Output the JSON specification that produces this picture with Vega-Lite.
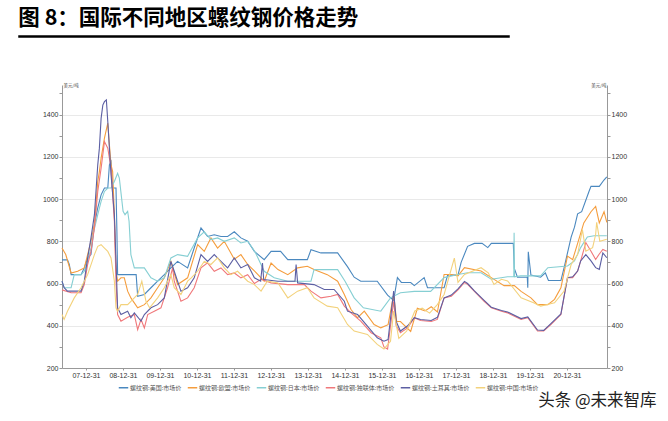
{
"$schema": "https://vega.github.io/schema/vega-lite/v6.json",
"background": "white",
"padding": {"left": 18, "top": 7, "right": 4, "bottom": 4},
"title": {"text": "图 8：国际不同地区螺纹钢价格走势", "anchor": "start", "fontSize": 21.5, "font": "Noto Sans CJK SC", "fontWeight": "bold", "color": "#000", "offset": 6},
"config": {"view": {"stroke": null}, "font": "Liberation Sans"},
"datasets": {"steel": [
{"d":"2007-05-09","s":"US","v":712},{"d":"2007-07-02","s":"US","v":712},{"d":"2007-07-20","s":"US","v":690},{"d":"2007-08-07","s":"US","v":642},{"d":"2007-11-13","s":"US","v":642},{"d":"2007-12-15","s":"US","v":674},{"d":"2008-01-17","s":"US","v":721},{"d":"2008-02-19","s":"US","v":737},{"d":"2008-03-24","s":"US","v":879},{"d":"2008-04-26","s":"US","v":958},{"d":"2008-05-29","s":"US","v":1020},{"d":"2008-07-01","s":"US","v":1052},{"d":"2008-08-03","s":"US","v":1052},{"d":"2008-08-19","s":"US","v":1162},{"d":"2008-09-04","s":"US","v":1177},{"d":"2008-09-20","s":"US","v":1052},{"d":"2008-10-23","s":"US","v":1052},{"d":"2008-11-01","s":"US","v":847},{"d":"2008-11-08","s":"US","v":642},{"d":"2009-05-10","s":"US","v":642},{"d":"2009-05-25","s":"US","v":540},{"d":"2009-07-30","s":"US","v":548},{"d":"2009-10-03","s":"US","v":580},{"d":"2009-12-08","s":"US","v":611},{"d":"2010-02-12","s":"US","v":642},{"d":"2010-04-18","s":"US","v":674},{"d":"2010-06-23","s":"US","v":705},{"d":"2010-09-30","s":"US","v":674},{"d":"2010-12-04","s":"US","v":768},{"d":"2011-02-09","s":"US","v":863},{"d":"2011-04-15","s":"US","v":823},{"d":"2011-06-20","s":"US","v":831},{"d":"2011-08-25","s":"US","v":823},{"d":"2011-10-30","s":"US","v":823},{"d":"2012-01-04","s":"US","v":845},{"d":"2012-03-09","s":"US","v":816},{"d":"2012-05-15","s":"US","v":800},{"d":"2012-07-20","s":"US","v":752},{"d":"2012-10-25","s":"US","v":713},{"d":"2013-01-01","s":"US","v":752},{"d":"2013-04-05","s":"US","v":752},{"d":"2013-06-15","s":"US","v":713},{"d":"2013-12-25","s":"US","v":713},{"d":"2014-01-30","s":"US","v":760},{"d":"2014-05-08","s":"US","v":745},{"d":"2014-10-20","s":"US","v":745},{"d":"2015-01-25","s":"US","v":680},{"d":"2015-04-01","s":"US","v":630},{"d":"2015-06-05","s":"US","v":611},{"d":"2015-11-15","s":"US","v":611},{"d":"2016-02-25","s":"US","v":545},{"d":"2016-04-25","s":"US","v":520},{"d":"2016-06-01","s":"US","v":628},{"d":"2016-07-10","s":"US","v":605},{"d":"2016-10-10","s":"US","v":605},{"d":"2016-11-15","s":"US","v":590},{"d":"2017-02-20","s":"US","v":628},{"d":"2017-03-25","s":"US","v":580},{"d":"2017-09-05","s":"US","v":580},{"d":"2017-10-10","s":"US","v":640},{"d":"2018-01-20","s":"US","v":640},{"d":"2018-02-20","s":"US","v":700},{"d":"2018-04-25","s":"US","v":776},{"d":"2018-07-01","s":"US","v":790},{"d":"2018-09-15","s":"US","v":790},{"d":"2018-11-10","s":"US","v":770},{"d":"2018-12-15","s":"US","v":790},{"d":"2019-07-20","s":"US","v":790},{"d":"2019-07-30","s":"US","v":672},{"d":"2019-08-30","s":"US","v":630},{"d":"2019-12-05","s":"US","v":630},{"d":"2019-12-10","s":"US","v":580},{"d":"2019-12-15","s":"US","v":750},{"d":"2020-01-10","s":"US","v":640},{"d":"2020-04-15","s":"US","v":630},{"d":"2020-06-01","s":"US","v":650},{"d":"2020-07-01","s":"US","v":614},{"d":"2020-11-01","s":"US","v":614},{"d":"2020-12-05","s":"US","v":680},{"d":"2021-02-10","s":"US","v":820},{"d":"2021-03-15","s":"US","v":867},{"d":"2021-04-15","s":"US","v":930},{"d":"2021-05-25","s":"US","v":940},{"d":"2021-08-05","s":"US","v":1036},{"d":"2021-08-25","s":"US","v":1060},{"d":"2021-11-15","s":"US","v":1060},{"d":"2021-12-31","s":"US","v":1090},{"d":"2022-01-28","s":"US","v":1105},
{"d":"2007-05-09","s":"EU","v":768},{"d":"2007-06-15","s":"EU","v":737},{"d":"2007-08-07","s":"EU","v":650},{"d":"2007-10-11","s":"EU","v":658},{"d":"2007-12-15","s":"EU","v":674},{"d":"2008-01-17","s":"EU","v":737},{"d":"2008-02-19","s":"EU","v":800},{"d":"2008-03-24","s":"EU","v":879},{"d":"2008-04-26","s":"EU","v":1083},{"d":"2008-05-12","s":"EU","v":1130},{"d":"2008-05-29","s":"EU","v":1193},{"d":"2008-07-01","s":"EU","v":1288},{"d":"2008-08-03","s":"EU","v":1359},{"d":"2008-08-19","s":"EU","v":1256},{"d":"2008-09-04","s":"EU","v":1162},{"d":"2008-09-20","s":"EU","v":1130},{"d":"2008-10-07","s":"EU","v":926},{"d":"2008-10-23","s":"EU","v":658},{"d":"2008-11-08","s":"EU","v":611},{"d":"2008-12-11","s":"EU","v":627},{"d":"2009-01-13","s":"EU","v":627},{"d":"2009-02-15","s":"EU","v":564},{"d":"2009-03-19","s":"EU","v":532},{"d":"2009-05-25","s":"EU","v":485},{"d":"2009-07-30","s":"EU","v":500},{"d":"2009-10-03","s":"EU","v":532},{"d":"2009-12-08","s":"EU","v":580},{"d":"2010-02-12","s":"EU","v":627},{"d":"2010-04-18","s":"EU","v":705},{"d":"2010-06-23","s":"EU","v":595},{"d":"2010-09-30","s":"EU","v":627},{"d":"2011-01-07","s":"EU","v":784},{"d":"2011-03-13","s":"EU","v":752},{"d":"2011-05-18","s":"EU","v":816},{"d":"2011-07-23","s":"EU","v":768},{"d":"2011-09-27","s":"EU","v":800},{"d":"2012-01-04","s":"EU","v":715},{"d":"2012-03-09","s":"EU","v":737},{"d":"2012-05-15","s":"EU","v":690},{"d":"2012-07-20","s":"EU","v":660},{"d":"2012-10-25","s":"EU","v":611},{"d":"2013-01-01","s":"EU","v":697},{"d":"2013-03-10","s":"EU","v":666},{"d":"2013-06-15","s":"EU","v":642},{"d":"2013-09-20","s":"EU","v":674},{"d":"2013-12-25","s":"EU","v":682},{"d":"2014-03-01","s":"EU","v":666},{"d":"2014-07-10","s":"EU","v":642},{"d":"2014-10-20","s":"EU","v":611},{"d":"2014-12-25","s":"EU","v":548},{"d":"2015-03-01","s":"EU","v":477},{"d":"2015-05-05","s":"EU","v":438},{"d":"2015-07-10","s":"EU","v":469},{"d":"2015-10-15","s":"EU","v":406},{"d":"2015-12-20","s":"EU","v":390},{"d":"2016-03-01","s":"EU","v":405},{"d":"2016-04-25","s":"EU","v":548},{"d":"2016-05-25","s":"EU","v":420},{"d":"2016-07-01","s":"EU","v":420},{"d":"2016-10-10","s":"EU","v":373},{"d":"2016-12-15","s":"EU","v":483},{"d":"2017-03-01","s":"EU","v":470},{"d":"2017-05-01","s":"EU","v":490},{"d":"2017-07-01","s":"EU","v":465},{"d":"2017-09-05","s":"EU","v":643},{"d":"2017-11-15","s":"EU","v":643},{"d":"2018-01-20","s":"EU","v":636},{"d":"2018-03-25","s":"EU","v":675},{"d":"2018-09-05","s":"EU","v":659},{"d":"2018-12-15","s":"EU","v":628},{"d":"2019-04-20","s":"EU","v":590},{"d":"2019-07-30","s":"EU","v":590},{"d":"2019-10-05","s":"EU","v":563},{"d":"2020-01-10","s":"EU","v":532},{"d":"2020-03-15","s":"EU","v":500},{"d":"2020-06-25","s":"EU","v":500},{"d":"2020-08-30","s":"EU","v":525},{"d":"2020-11-01","s":"EU","v":580},{"d":"2021-01-05","s":"EU","v":730},{"d":"2021-02-25","s":"EU","v":713},{"d":"2021-04-15","s":"EU","v":790},{"d":"2021-06-15","s":"EU","v":887},{"d":"2021-08-25","s":"EU","v":940},{"d":"2021-10-10","s":"EU","v":965},{"d":"2021-11-15","s":"EU","v":887},{"d":"2022-01-01","s":"EU","v":940},{"d":"2022-01-28","s":"EU","v":890},
{"d":"2007-05-09","s":"JP","v":611},{"d":"2007-05-30","s":"JP","v":580},{"d":"2007-08-07","s":"JP","v":580},{"d":"2007-09-07","s":"JP","v":642},{"d":"2007-11-13","s":"JP","v":642},{"d":"2007-12-15","s":"JP","v":658},{"d":"2008-01-17","s":"JP","v":705},{"d":"2008-02-19","s":"JP","v":768},{"d":"2008-03-10","s":"JP","v":831},{"d":"2008-04-26","s":"JP","v":926},{"d":"2008-05-29","s":"JP","v":989},{"d":"2008-07-01","s":"JP","v":1036},{"d":"2008-08-03","s":"JP","v":1052},{"d":"2008-09-04","s":"JP","v":1052},{"d":"2008-10-07","s":"JP","v":1083},{"d":"2008-11-08","s":"JP","v":1122},{"d":"2008-11-25","s":"JP","v":1099},{"d":"2009-01-01","s":"JP","v":942},{"d":"2009-01-20","s":"JP","v":926},{"d":"2009-02-15","s":"JP","v":942},{"d":"2009-03-01","s":"JP","v":895},{"d":"2009-03-19","s":"JP","v":737},{"d":"2009-04-22","s":"JP","v":674},{"d":"2009-07-30","s":"JP","v":674},{"d":"2009-10-03","s":"JP","v":627},{"d":"2009-12-08","s":"JP","v":611},{"d":"2010-02-12","s":"JP","v":627},{"d":"2010-04-18","s":"JP","v":721},{"d":"2010-06-23","s":"JP","v":737},{"d":"2010-09-30","s":"JP","v":729},{"d":"2011-01-07","s":"JP","v":816},{"d":"2011-03-13","s":"JP","v":845},{"d":"2011-05-18","s":"JP","v":808},{"d":"2011-07-23","s":"JP","v":816},{"d":"2011-09-27","s":"JP","v":800},{"d":"2012-01-04","s":"JP","v":816},{"d":"2012-03-09","s":"JP","v":792},{"d":"2012-05-15","s":"JP","v":800},{"d":"2012-07-01","s":"JP","v":768},{"d":"2012-08-01","s":"JP","v":745},{"d":"2012-10-25","s":"JP","v":658},{"d":"2013-02-01","s":"JP","v":627},{"d":"2013-06-15","s":"JP","v":611},{"d":"2014-01-30","s":"JP","v":611},{"d":"2014-03-01","s":"JP","v":666},{"d":"2014-10-20","s":"JP","v":666},{"d":"2015-01-01","s":"JP","v":611},{"d":"2015-04-01","s":"JP","v":532},{"d":"2015-07-01","s":"JP","v":485},{"d":"2015-12-20","s":"JP","v":469},{"d":"2016-03-25","s":"JP","v":532},{"d":"2016-07-01","s":"JP","v":556},{"d":"2016-11-15","s":"JP","v":563},{"d":"2017-04-25","s":"JP","v":563},{"d":"2017-09-05","s":"JP","v":628},{"d":"2018-01-20","s":"JP","v":643},{"d":"2018-04-25","s":"JP","v":651},{"d":"2018-09-05","s":"JP","v":651},{"d":"2018-12-15","s":"JP","v":620},{"d":"2019-05-25","s":"JP","v":632},{"d":"2019-07-25","s":"JP","v":632},{"d":"2019-07-28","s":"JP","v":840},{"d":"2019-08-01","s":"JP","v":632},{"d":"2019-10-01","s":"JP","v":636},{"d":"2020-04-15","s":"JP","v":636},{"d":"2020-06-25","s":"JP","v":675},{"d":"2021-01-05","s":"JP","v":683},{"d":"2021-03-15","s":"JP","v":707},{"d":"2021-05-15","s":"JP","v":770},{"d":"2021-07-20","s":"JP","v":820},{"d":"2021-09-25","s":"JP","v":826},{"d":"2022-01-28","s":"JP","v":826},
{"d":"2007-05-09","s":"CIS","v":570},{"d":"2007-08-07","s":"CIS","v":556},{"d":"2007-11-13","s":"CIS","v":556},{"d":"2007-12-15","s":"CIS","v":595},{"d":"2008-01-17","s":"CIS","v":690},{"d":"2008-02-19","s":"CIS","v":752},{"d":"2008-03-24","s":"CIS","v":863},{"d":"2008-04-26","s":"CIS","v":1036},{"d":"2008-05-29","s":"CIS","v":1146},{"d":"2008-07-01","s":"CIS","v":1272},{"d":"2008-08-03","s":"CIS","v":1241},{"d":"2008-09-04","s":"CIS","v":1146},{"d":"2008-10-07","s":"CIS","v":895},{"d":"2008-10-23","s":"CIS","v":611},{"d":"2008-11-08","s":"CIS","v":453},{"d":"2008-12-11","s":"CIS","v":422},{"d":"2009-02-15","s":"CIS","v":440},{"d":"2009-04-22","s":"CIS","v":453},{"d":"2009-05-25","s":"CIS","v":382},{"d":"2009-06-27","s":"CIS","v":430},{"d":"2009-07-30","s":"CIS","v":390},{"d":"2009-09-01","s":"CIS","v":453},{"d":"2009-11-05","s":"CIS","v":469},{"d":"2010-01-10","s":"CIS","v":485},{"d":"2010-03-16","s":"CIS","v":580},{"d":"2010-05-05","s":"CIS","v":674},{"d":"2010-05-21","s":"CIS","v":611},{"d":"2010-07-26","s":"CIS","v":516},{"d":"2010-09-30","s":"CIS","v":532},{"d":"2010-12-04","s":"CIS","v":580},{"d":"2011-02-09","s":"CIS","v":674},{"d":"2011-04-15","s":"CIS","v":698},{"d":"2011-06-20","s":"CIS","v":658},{"d":"2011-08-25","s":"CIS","v":674},{"d":"2011-10-30","s":"CIS","v":642},{"d":"2012-01-04","s":"CIS","v":650},{"d":"2012-03-09","s":"CIS","v":627},{"d":"2012-05-15","s":"CIS","v":642},{"d":"2012-07-20","s":"CIS","v":600},{"d":"2012-09-24","s":"CIS","v":620},{"d":"2013-01-01","s":"CIS","v":603},{"d":"2013-06-15","s":"CIS","v":595},{"d":"2013-11-25","s":"CIS","v":595},{"d":"2014-01-30","s":"CIS","v":564},{"d":"2014-05-08","s":"CIS","v":532},{"d":"2014-08-15","s":"CIS","v":540},{"d":"2014-10-20","s":"CIS","v":548},{"d":"2014-12-25","s":"CIS","v":493},{"d":"2015-03-01","s":"CIS","v":461},{"d":"2015-06-05","s":"CIS","v":422},{"d":"2015-09-15","s":"CIS","v":367},{"d":"2015-12-20","s":"CIS","v":343},{"d":"2016-01-20","s":"CIS","v":300},{"d":"2016-02-25","s":"CIS","v":290},{"d":"2016-04-25","s":"CIS","v":516},{"d":"2016-05-20","s":"CIS","v":400},{"d":"2016-07-01","s":"CIS","v":367},{"d":"2016-09-10","s":"CIS","v":390},{"d":"2016-11-15","s":"CIS","v":438},{"d":"2017-01-15","s":"CIS","v":425},{"d":"2017-05-01","s":"CIS","v":420},{"d":"2017-06-30","s":"CIS","v":430},{"d":"2017-09-05","s":"CIS","v":532},{"d":"2017-11-15","s":"CIS","v":540},{"d":"2018-01-20","s":"CIS","v":570},{"d":"2018-03-25","s":"CIS","v":605},{"d":"2018-04-25","s":"CIS","v":596},{"d":"2018-07-01","s":"CIS","v":563},{"d":"2018-10-05","s":"CIS","v":516},{"d":"2018-12-15","s":"CIS","v":485},{"d":"2019-03-25","s":"CIS","v":469},{"d":"2019-05-25","s":"CIS","v":461},{"d":"2019-10-05","s":"CIS","v":430},{"d":"2019-12-10","s":"CIS","v":438},{"d":"2020-03-15","s":"CIS","v":375},{"d":"2020-05-15","s":"CIS","v":375},{"d":"2020-07-25","s":"CIS","v":406},{"d":"2020-11-01","s":"CIS","v":453},{"d":"2021-01-05","s":"CIS","v":628},{"d":"2021-02-25","s":"CIS","v":628},{"d":"2021-04-15","s":"CIS","v":659},{"d":"2021-05-15","s":"CIS","v":707},{"d":"2021-07-05","s":"CIS","v":794},{"d":"2021-08-25","s":"CIS","v":753},{"d":"2021-10-10","s":"CIS","v":714},{"d":"2021-11-15","s":"CIS","v":740},{"d":"2021-12-20","s":"CIS","v":761},{"d":"2022-01-28","s":"CIS","v":753},
{"d":"2007-05-09","s":"TR","v":611},{"d":"2007-05-30","s":"TR","v":580},{"d":"2007-07-02","s":"TR","v":564},{"d":"2007-11-13","s":"TR","v":564},{"d":"2007-12-15","s":"TR","v":611},{"d":"2008-01-17","s":"TR","v":721},{"d":"2008-02-19","s":"TR","v":816},{"d":"2008-03-24","s":"TR","v":926},{"d":"2008-04-26","s":"TR","v":1162},{"d":"2008-05-12","s":"TR","v":1241},{"d":"2008-05-29","s":"TR","v":1382},{"d":"2008-06-15","s":"TR","v":1445},{"d":"2008-07-01","s":"TR","v":1461},{"d":"2008-07-20","s":"TR","v":1469},{"d":"2008-08-03","s":"TR","v":1367},{"d":"2008-08-19","s":"TR","v":1241},{"d":"2008-09-04","s":"TR","v":1115},{"d":"2008-10-07","s":"TR","v":926},{"d":"2008-11-08","s":"TR","v":485},{"d":"2008-12-11","s":"TR","v":453},{"d":"2009-02-15","s":"TR","v":469},{"d":"2009-03-19","s":"TR","v":438},{"d":"2009-04-22","s":"TR","v":461},{"d":"2009-06-27","s":"TR","v":422},{"d":"2009-07-30","s":"TR","v":453},{"d":"2009-10-03","s":"TR","v":485},{"d":"2009-12-08","s":"TR","v":500},{"d":"2010-02-12","s":"TR","v":532},{"d":"2010-04-18","s":"TR","v":705},{"d":"2010-05-21","s":"TR","v":658},{"d":"2010-07-26","s":"TR","v":564},{"d":"2010-09-30","s":"TR","v":580},{"d":"2010-12-04","s":"TR","v":627},{"d":"2011-02-09","s":"TR","v":737},{"d":"2011-04-15","s":"TR","v":705},{"d":"2011-06-20","s":"TR","v":737},{"d":"2011-08-25","s":"TR","v":705},{"d":"2011-10-30","s":"TR","v":674},{"d":"2012-01-04","s":"TR","v":721},{"d":"2012-03-09","s":"TR","v":674},{"d":"2012-05-15","s":"TR","v":690},{"d":"2012-07-20","s":"TR","v":627},{"d":"2012-09-20","s":"TR","v":611},{"d":"2012-10-08","s":"TR","v":697},{"d":"2012-10-20","s":"TR","v":619},{"d":"2013-03-10","s":"TR","v":611},{"d":"2013-08-25","s":"TR","v":611},{"d":"2013-09-05","s":"TR","v":690},{"d":"2013-09-20","s":"TR","v":603},{"d":"2014-03-01","s":"TR","v":595},{"d":"2014-06-10","s":"TR","v":572},{"d":"2014-09-15","s":"TR","v":572},{"d":"2014-12-25","s":"TR","v":516},{"d":"2015-01-25","s":"TR","v":469},{"d":"2015-05-05","s":"TR","v":453},{"d":"2015-08-10","s":"TR","v":398},{"d":"2015-11-15","s":"TR","v":343},{"d":"2016-01-20","s":"TR","v":327},{"d":"2016-03-01","s":"TR","v":335},{"d":"2016-04-25","s":"TR","v":564},{"d":"2016-05-20","s":"TR","v":420},{"d":"2016-07-01","s":"TR","v":375},{"d":"2016-09-10","s":"TR","v":400},{"d":"2016-11-15","s":"TR","v":438},{"d":"2017-01-15","s":"TR","v":430},{"d":"2017-05-01","s":"TR","v":425},{"d":"2017-07-01","s":"TR","v":440},{"d":"2017-09-05","s":"TR","v":532},{"d":"2017-11-15","s":"TR","v":545},{"d":"2018-01-20","s":"TR","v":575},{"d":"2018-03-25","s":"TR","v":610},{"d":"2018-04-25","s":"TR","v":600},{"d":"2018-07-01","s":"TR","v":565},{"d":"2018-10-05","s":"TR","v":520},{"d":"2018-12-15","s":"TR","v":488},{"d":"2019-03-25","s":"TR","v":472},{"d":"2019-05-25","s":"TR","v":465},{"d":"2019-10-05","s":"TR","v":434},{"d":"2019-12-10","s":"TR","v":442},{"d":"2020-03-15","s":"TR","v":380},{"d":"2020-05-15","s":"TR","v":378},{"d":"2020-07-25","s":"TR","v":410},{"d":"2020-11-01","s":"TR","v":456},{"d":"2021-01-05","s":"TR","v":628},{"d":"2021-02-25","s":"TR","v":632},{"d":"2021-04-15","s":"TR","v":659},{"d":"2021-05-15","s":"TR","v":707},{"d":"2021-07-05","s":"TR","v":737},{"d":"2021-08-25","s":"TR","v":707},{"d":"2021-10-10","s":"TR","v":675},{"d":"2021-11-15","s":"TR","v":667},{"d":"2021-12-20","s":"TR","v":745},{"d":"2022-01-28","s":"TR","v":722},
{"d":"2007-05-09","s":"CN","v":453},{"d":"2007-05-30","s":"CN","v":430},{"d":"2007-07-02","s":"CN","v":469},{"d":"2007-09-07","s":"CN","v":532},{"d":"2007-11-13","s":"CN","v":580},{"d":"2008-01-17","s":"CN","v":642},{"d":"2008-03-24","s":"CN","v":737},{"d":"2008-04-26","s":"CN","v":776},{"d":"2008-05-29","s":"CN","v":784},{"d":"2008-07-01","s":"CN","v":768},{"d":"2008-08-03","s":"CN","v":752},{"d":"2008-09-04","s":"CN","v":721},{"d":"2008-10-07","s":"CN","v":611},{"d":"2008-10-23","s":"CN","v":485},{"d":"2008-11-08","s":"CN","v":469},{"d":"2008-12-11","s":"CN","v":500},{"d":"2009-02-15","s":"CN","v":500},{"d":"2009-03-19","s":"CN","v":516},{"d":"2009-05-25","s":"CN","v":548},{"d":"2009-07-05","s":"CN","v":611},{"d":"2009-08-15","s":"CN","v":516},{"d":"2009-09-20","s":"CN","v":485},{"d":"2009-12-08","s":"CN","v":532},{"d":"2010-02-12","s":"CN","v":580},{"d":"2010-04-18","s":"CN","v":642},{"d":"2010-05-21","s":"CN","v":580},{"d":"2010-07-26","s":"CN","v":548},{"d":"2010-09-30","s":"CN","v":611},{"d":"2010-11-05","s":"CN","v":627},{"d":"2011-01-07","s":"CN","v":658},{"d":"2011-03-13","s":"CN","v":705},{"d":"2011-05-18","s":"CN","v":690},{"d":"2011-07-23","s":"CN","v":721},{"d":"2011-09-27","s":"CN","v":674},{"d":"2011-11-30","s":"CN","v":642},{"d":"2012-02-05","s":"CN","v":658},{"d":"2012-05-15","s":"CN","v":611},{"d":"2012-07-20","s":"CN","v":595},{"d":"2012-09-24","s":"CN","v":564},{"d":"2012-11-25","s":"CN","v":611},{"d":"2013-03-10","s":"CN","v":603},{"d":"2013-06-15","s":"CN","v":532},{"d":"2013-09-20","s":"CN","v":564},{"d":"2013-12-25","s":"CN","v":580},{"d":"2014-03-01","s":"CN","v":532},{"d":"2014-07-10","s":"CN","v":493},{"d":"2014-10-20","s":"CN","v":485},{"d":"2015-01-25","s":"CN","v":406},{"d":"2015-04-01","s":"CN","v":375},{"d":"2015-08-10","s":"CN","v":359},{"d":"2015-11-15","s":"CN","v":312},{"d":"2016-01-20","s":"CN","v":290},{"d":"2016-03-25","s":"CN","v":327},{"d":"2016-04-25","s":"CN","v":470},{"d":"2016-06-15","s":"CN","v":340},{"d":"2016-09-01","s":"CN","v":375},{"d":"2016-11-20","s":"CN","v":470},{"d":"2017-02-01","s":"CN","v":483},{"d":"2017-04-15","s":"CN","v":460},{"d":"2017-06-30","s":"CN","v":500},{"d":"2017-09-05","s":"CN","v":548},{"d":"2017-12-15","s":"CN","v":720},{"d":"2018-01-20","s":"CN","v":605},{"d":"2018-03-25","s":"CN","v":643},{"d":"2018-09-05","s":"CN","v":675},{"d":"2018-11-15","s":"CN","v":651},{"d":"2019-01-10","s":"CN","v":596},{"d":"2019-03-25","s":"CN","v":620},{"d":"2019-05-25","s":"CN","v":612},{"d":"2019-10-05","s":"CN","v":532},{"d":"2020-02-05","s":"CN","v":509},{"d":"2020-04-15","s":"CN","v":493},{"d":"2020-08-30","s":"CN","v":509},{"d":"2020-12-01","s":"CN","v":563},{"d":"2021-02-10","s":"CN","v":690},{"d":"2021-04-15","s":"CN","v":737},{"d":"2021-06-01","s":"CN","v":855},{"d":"2021-07-05","s":"CN","v":753},{"d":"2021-09-10","s":"CN","v":770},{"d":"2021-10-10","s":"CN","v":832},{"d":"2021-10-20","s":"CN","v":890},{"d":"2021-11-20","s":"CN","v":800},{"d":"2022-01-28","s":"CN","v":810}
]},
"spacing": 48,
"bounds": "flush",
"vconcat": [
 {"width": 490, "height": 1, "view": {"stroke": "#000", "strokeWidth": 1.5, "fill": "#000"}, "data": {"values": []}, "mark": "point"},
 {"spacing": 42, "bounds": "flush", "hconcat": [
  {"width": 1, "height": 283, "data": {"values": []}, "mark": "point"},
  {"width": 545, "height": 283, "data": {"name": "steel"},
   "title": {"text": "头条 @未来智库", "orient": "bottom", "anchor": "end", "fontSize": 16.5, "font": "Noto Sans CJK SC", "fontWeight": "normal", "color": "#222", "dx": 30, "offset": 15},
   "resolve": {"scale": {"y": "independent"}},
   "layer": [
    {"mark": {"type": "line", "strokeWidth": 1.1},
     "encoding": {
      "x": {"field": "d", "type": "temporal",
            "scale": {"type": "utc", "domain": [{"year": 2007, "month": 5, "date": 9, "utc": true}, {"year": 2022, "month": 1, "date": 30, "utc": true}]},
            "axis": {"title": null, "grid": false,
              "values": [{"year":2007,"month":12,"date":31,"utc":true},{"year":2008,"month":6,"date":30,"utc":true},{"year":2008,"month":12,"date":31,"utc":true},{"year":2009,"month":6,"date":30,"utc":true},{"year":2009,"month":12,"date":31,"utc":true},{"year":2010,"month":6,"date":30,"utc":true},{"year":2010,"month":12,"date":31,"utc":true},{"year":2011,"month":6,"date":30,"utc":true},{"year":2011,"month":12,"date":31,"utc":true},{"year":2012,"month":6,"date":30,"utc":true},{"year":2012,"month":12,"date":31,"utc":true},{"year":2013,"month":6,"date":30,"utc":true},{"year":2013,"month":12,"date":31,"utc":true},{"year":2014,"month":6,"date":30,"utc":true},{"year":2014,"month":12,"date":31,"utc":true},{"year":2015,"month":6,"date":30,"utc":true},{"year":2015,"month":12,"date":31,"utc":true},{"year":2016,"month":6,"date":30,"utc":true},{"year":2016,"month":12,"date":31,"utc":true},{"year":2017,"month":6,"date":30,"utc":true},{"year":2017,"month":12,"date":31,"utc":true},{"year":2018,"month":6,"date":30,"utc":true},{"year":2018,"month":12,"date":31,"utc":true},{"year":2019,"month":6,"date":30,"utc":true},{"year":2019,"month":12,"date":31,"utc":true},{"year":2020,"month":6,"date":30,"utc":true},{"year":2020,"month":12,"date":31,"utc":true},{"year":2021,"month":6,"date":30,"utc":true}],
              "labelExpr": "utcmonth(datum.value) == 11 ? utcFormat(datum.value, '%y-%m-%d') : ''",
              "labelFontSize": 7, "labelColor": "#333", "labelPadding": 1, "tickSize": 2,
              "domainColor": "#999", "tickColor": "#999", "labelFlush": false, "labelOverlap": false}},
      "y": {"field": "v", "type": "quantitative",
            "scale": {"domain": [200, 1540], "nice": false, "zero": false},
            "axis": {"values": [200,300,400,500,600,700,800,900,1000,1100,1200,1300,1400,1500], "format": "d",
              "labelExpr": "datum.value % 200 == 0 ? datum.label : ''",
              "grid": true, "gridColor": {"condition": {"test": "datum.value % 200 == 0 && datum.value > 200", "value": "#e9e9e9"}, "value": "transparent"},
              "domainColor": "#999", "tickColor": "#999", "tickSize": 3, "labelFontSize": 7, "labelColor": "#333", "labelPadding": 1,
              "title": "美元/吨", "titleAngle": 0, "titleX": 1, "titleY": 2, "titleAlign": "left", "titleBaseline": "bottom",
              "titleFontSize": 4.5, "titleFontWeight": "normal", "titleColor": "#444", "titleFont": "Noto Sans CJK SC"}},
      "color": {"field": "s", "type": "nominal",
            "scale": {"domain": ["US","EU","JP","CIS","TR","CN"], "range": ["#4a88bf","#f59d3d","#86cfd3","#f0787b","#5c5fa3","#f3d27c"]},
            "legend": {"orient": "none", "legendX": 99, "legendY": 346, "direction": "horizontal", "columns": 6, "title": null,
              "symbolType": "stroke", "symbolSize": 90, "symbolStrokeWidth": 1.5, "labelFontSize": 6, "labelFont": "Noto Sans CJK SC", "labelColor": "#555", "labelOffset": 1, "columnPadding": 2,
              "labelExpr": "datum.label == 'US' ? '螺纹钢:美国:市场价' : datum.label == 'EU' ? '螺纹钢:欧盟:市场价' : datum.label == 'JP' ? '螺纹钢:日本:市场价' : datum.label == 'CIS' ? '螺纹钢:独联体:市场价' : datum.label == 'TR' ? '螺纹钢:土耳其:市场价' : '螺纹钢:中国:市场价'"}}
     }},
    {"mark": {"type": "line", "opacity": 0},
     "encoding": {
      "x": {"field": "d", "type": "temporal"},
      "y": {"field": "v", "type": "quantitative",
            "scale": {"domain": [200, 1540], "nice": false, "zero": false},
            "axis": {"orient": "right", "values": [200,300,400,500,600,700,800,900,1000,1100,1200,1300,1400,1500], "format": "d",
              "labelExpr": "datum.value % 200 == 0 ? datum.label : ''", "grid": false,
              "domainColor": "#999", "tickColor": "#999", "tickSize": 3, "labelFontSize": 7, "labelColor": "#333", "labelPadding": 1,
              "title": "美元/吨", "titleAngle": 0, "titleX": -1, "titleY": 2, "titleAlign": "right", "titleBaseline": "bottom",
              "titleFontSize": 4.5, "titleFontWeight": "normal", "titleColor": "#444", "titleFont": "Noto Sans CJK SC"}},
      "detail": {"field": "s"}
     }}
   ]}
 ]}
]
}
